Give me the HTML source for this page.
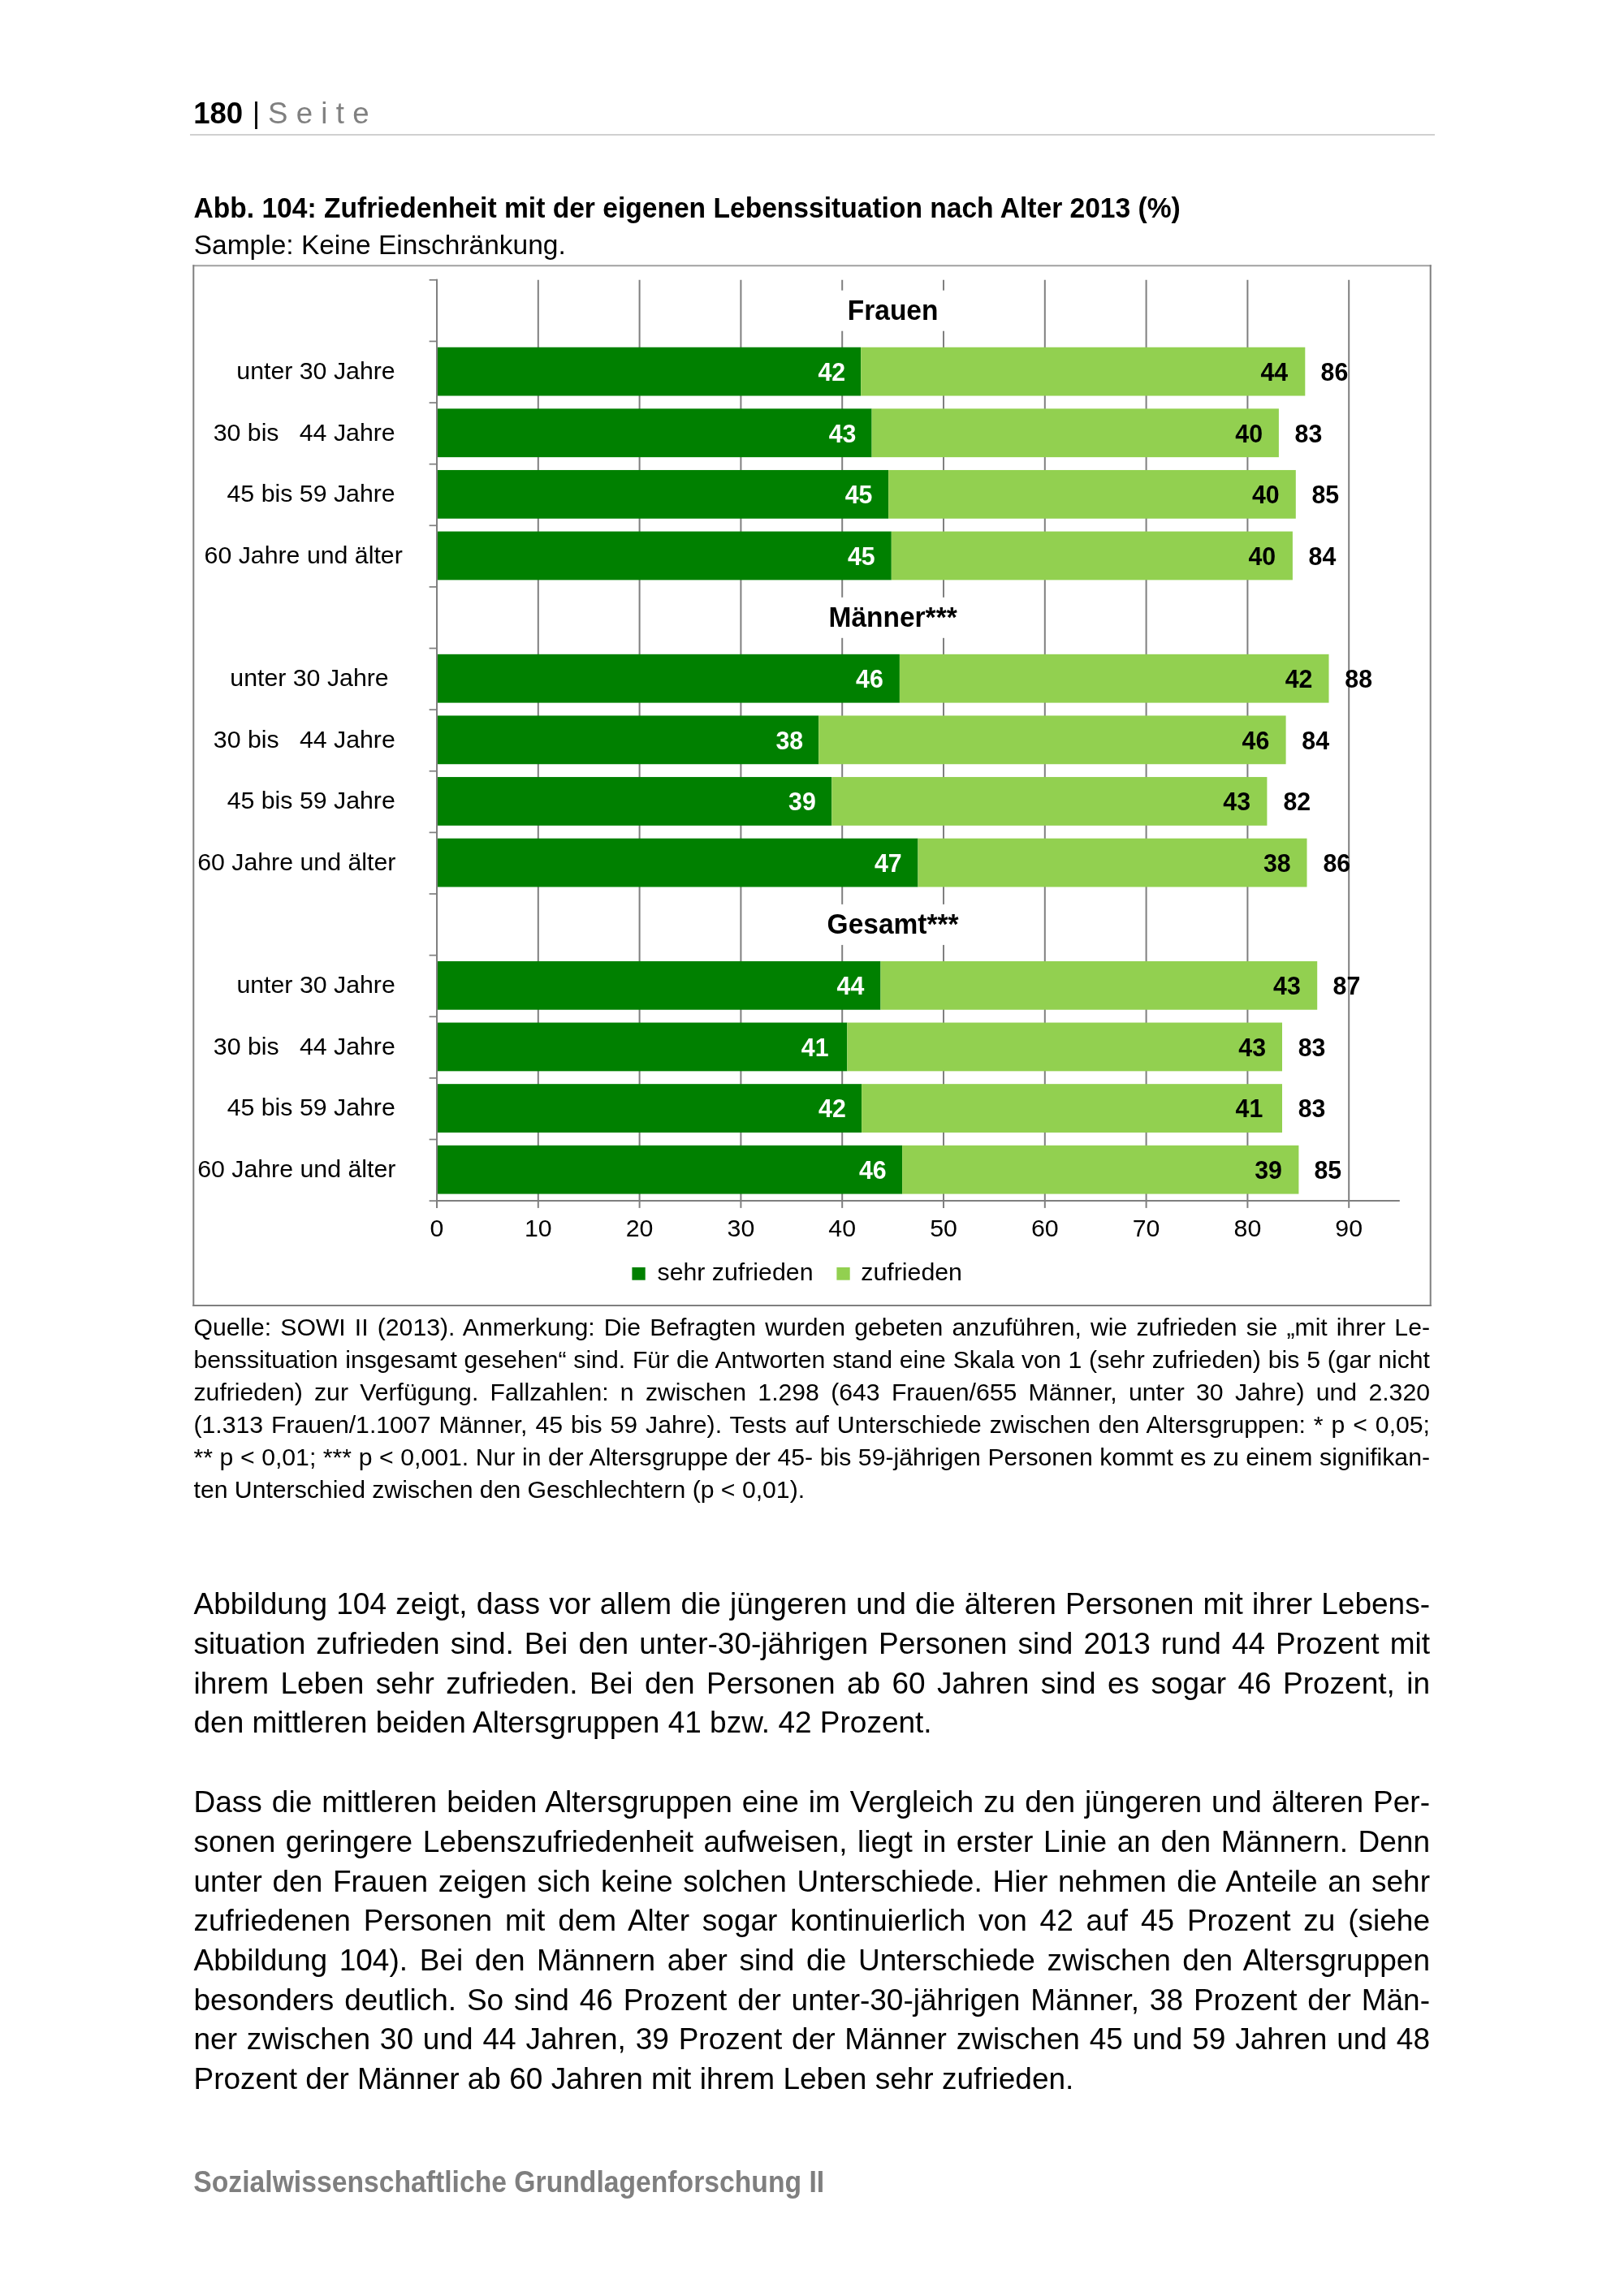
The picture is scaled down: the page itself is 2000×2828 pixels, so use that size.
<!DOCTYPE html>
<html><head><meta charset="utf-8"><style>
html,body{margin:0;padding:0;background:#fff;}
body{width:2000px;height:2828px;position:relative;overflow:hidden;font-family:'Liberation Sans', sans-serif;color:#000;}
.t{position:absolute;white-space:nowrap;}
.j{position:absolute;white-space:nowrap;text-align:justify;text-align-last:justify;}
svg text{font-family:'Liberation Sans', sans-serif;}
</style></head><body>
<div id="pg" style="position:absolute;left:0;top:0;width:2000px;height:2828px;will-change:transform">
<svg width="2000" height="2828" style="position:absolute;left:0;top:0">
<line x1="237.5" y1="327.2" x2="1762.7" y2="327.2" stroke="#a0a0a0" stroke-width="2"/>
<line x1="238.3" y1="326.2" x2="238.3" y2="1608.9" stroke="#7f7f7f" stroke-width="2"/>
<line x1="1761.7" y1="326.2" x2="1761.7" y2="1608.9" stroke="#7f7f7f" stroke-width="2"/>
<line x1="237.3" y1="1607.9" x2="1762.7" y2="1607.9" stroke="#7f7f7f" stroke-width="2"/>
<line x1="662.80" y1="344.80" x2="662.80" y2="1479.10" stroke="#7f7f7f" stroke-width="2"/>
<line x1="787.60" y1="344.80" x2="787.60" y2="1479.10" stroke="#7f7f7f" stroke-width="2"/>
<line x1="912.40" y1="344.80" x2="912.40" y2="1479.10" stroke="#7f7f7f" stroke-width="2"/>
<line x1="1037.20" y1="344.80" x2="1037.20" y2="1479.10" stroke="#7f7f7f" stroke-width="2"/>
<line x1="1162.00" y1="344.80" x2="1162.00" y2="1479.10" stroke="#7f7f7f" stroke-width="2"/>
<line x1="1286.80" y1="344.80" x2="1286.80" y2="1479.10" stroke="#7f7f7f" stroke-width="2"/>
<line x1="1411.60" y1="344.80" x2="1411.60" y2="1479.10" stroke="#7f7f7f" stroke-width="2"/>
<line x1="1536.40" y1="344.80" x2="1536.40" y2="1479.10" stroke="#7f7f7f" stroke-width="2"/>
<line x1="1661.20" y1="344.80" x2="1661.20" y2="1479.10" stroke="#7f7f7f" stroke-width="2"/>
<rect x="1028" y="357.70" width="144" height="50" fill="#fff"/>
<text x="1099.60" y="394.10" text-anchor="middle" font-weight="bold" font-size="33.5" transform="matrix(1,0,0,1.07,0,-27.587)">Frauen</text>
<rect x="1012" y="735.80" width="176" height="50" fill="#fff"/>
<text x="1099.60" y="772.20" text-anchor="middle" font-weight="bold" font-size="33.5" transform="matrix(1,0,0,1.07,0,-54.054)">Männer***</text>
<rect x="1012" y="1113.90" width="176" height="50" fill="#fff"/>
<text x="1099.60" y="1150.30" text-anchor="middle" font-weight="bold" font-size="33.5" transform="matrix(1,0,0,1.07,0,-80.521)">Gesamt***</text>
<rect x="538.8" y="427.72" width="521.40" height="59.8" fill="#008000"/>
<rect x="1060.20" y="427.72" width="547.10" height="59.8" fill="#92d050"/>
<text x="1041.10" y="469.03" text-anchor="end" font-weight="bold" font-size="30.3" fill="#fff" transform="matrix(1,0,0,1.065,0,-30.487)">42</text>
<text x="1586.10" y="469.03" text-anchor="end" font-weight="bold" font-size="30.3" transform="matrix(1,0,0,1.065,0,-30.487)">44</text>
<text x="1626.60" y="469.03" font-weight="bold" font-size="30.3" transform="matrix(1,0,0,1.065,0,-30.487)">86</text>
<rect x="538.8" y="503.34" width="534.80" height="59.8" fill="#008000"/>
<rect x="1073.60" y="503.34" width="501.30" height="59.8" fill="#92d050"/>
<text x="1054.40" y="544.65" text-anchor="end" font-weight="bold" font-size="30.3" fill="#fff" transform="matrix(1,0,0,1.065,0,-35.402)">43</text>
<text x="1555.00" y="544.65" text-anchor="end" font-weight="bold" font-size="30.3" transform="matrix(1,0,0,1.065,0,-35.402)">40</text>
<text x="1594.60" y="544.65" font-weight="bold" font-size="30.3" transform="matrix(1,0,0,1.065,0,-35.402)">83</text>
<rect x="538.8" y="578.96" width="555.30" height="59.8" fill="#008000"/>
<rect x="1094.10" y="578.96" width="501.70" height="59.8" fill="#92d050"/>
<text x="1074.40" y="620.27" text-anchor="end" font-weight="bold" font-size="30.3" fill="#fff" transform="matrix(1,0,0,1.065,0,-40.318)">45</text>
<text x="1575.70" y="620.27" text-anchor="end" font-weight="bold" font-size="30.3" transform="matrix(1,0,0,1.065,0,-40.318)">40</text>
<text x="1615.50" y="620.27" font-weight="bold" font-size="30.3" transform="matrix(1,0,0,1.065,0,-40.318)">85</text>
<rect x="538.8" y="654.58" width="559.00" height="59.8" fill="#008000"/>
<rect x="1097.80" y="654.58" width="494.10" height="59.8" fill="#92d050"/>
<text x="1077.70" y="695.89" text-anchor="end" font-weight="bold" font-size="30.3" fill="#fff" transform="matrix(1,0,0,1.065,0,-45.233)">45</text>
<text x="1571.10" y="695.89" text-anchor="end" font-weight="bold" font-size="30.3" transform="matrix(1,0,0,1.065,0,-45.233)">40</text>
<text x="1611.60" y="695.89" font-weight="bold" font-size="30.3" transform="matrix(1,0,0,1.065,0,-45.233)">84</text>
<rect x="538.8" y="805.82" width="569.10" height="59.8" fill="#008000"/>
<rect x="1107.90" y="805.82" width="528.60" height="59.8" fill="#92d050"/>
<text x="1087.80" y="847.13" text-anchor="end" font-weight="bold" font-size="30.3" fill="#fff" transform="matrix(1,0,0,1.065,0,-55.063)">46</text>
<text x="1616.40" y="847.13" text-anchor="end" font-weight="bold" font-size="30.3" transform="matrix(1,0,0,1.065,0,-55.063)">42</text>
<text x="1656.30" y="847.13" font-weight="bold" font-size="30.3" transform="matrix(1,0,0,1.065,0,-55.063)">88</text>
<rect x="538.8" y="881.44" width="469.40" height="59.8" fill="#008000"/>
<rect x="1008.20" y="881.44" width="575.40" height="59.8" fill="#92d050"/>
<text x="989.10" y="922.75" text-anchor="end" font-weight="bold" font-size="30.3" fill="#fff" transform="matrix(1,0,0,1.065,0,-59.979)">38</text>
<text x="1563.30" y="922.75" text-anchor="end" font-weight="bold" font-size="30.3" transform="matrix(1,0,0,1.065,0,-59.979)">46</text>
<text x="1603.30" y="922.75" font-weight="bold" font-size="30.3" transform="matrix(1,0,0,1.065,0,-59.979)">84</text>
<rect x="538.8" y="957.06" width="485.50" height="59.8" fill="#008000"/>
<rect x="1024.30" y="957.06" width="536.10" height="59.8" fill="#92d050"/>
<text x="1004.80" y="998.37" text-anchor="end" font-weight="bold" font-size="30.3" fill="#fff" transform="matrix(1,0,0,1.065,0,-64.894)">39</text>
<text x="1540.00" y="998.37" text-anchor="end" font-weight="bold" font-size="30.3" transform="matrix(1,0,0,1.065,0,-64.894)">43</text>
<text x="1580.50" y="998.37" font-weight="bold" font-size="30.3" transform="matrix(1,0,0,1.065,0,-64.894)">82</text>
<rect x="538.8" y="1032.68" width="591.70" height="59.8" fill="#008000"/>
<rect x="1130.50" y="1032.68" width="479.00" height="59.8" fill="#92d050"/>
<text x="1110.70" y="1073.99" text-anchor="end" font-weight="bold" font-size="30.3" fill="#fff" transform="matrix(1,0,0,1.065,0,-69.809)">47</text>
<text x="1589.70" y="1073.99" text-anchor="end" font-weight="bold" font-size="30.3" transform="matrix(1,0,0,1.065,0,-69.809)">38</text>
<text x="1629.50" y="1073.99" font-weight="bold" font-size="30.3" transform="matrix(1,0,0,1.065,0,-69.809)">86</text>
<rect x="538.8" y="1183.92" width="545.70" height="59.8" fill="#008000"/>
<rect x="1084.50" y="1183.92" width="537.70" height="59.8" fill="#92d050"/>
<text x="1064.30" y="1225.23" text-anchor="end" font-weight="bold" font-size="30.3" fill="#fff" transform="matrix(1,0,0,1.065,0,-79.640)">44</text>
<text x="1601.80" y="1225.23" text-anchor="end" font-weight="bold" font-size="30.3" transform="matrix(1,0,0,1.065,0,-79.640)">43</text>
<text x="1641.60" y="1225.23" font-weight="bold" font-size="30.3" transform="matrix(1,0,0,1.065,0,-79.640)">87</text>
<rect x="538.8" y="1259.54" width="504.50" height="59.8" fill="#008000"/>
<rect x="1043.30" y="1259.54" width="535.70" height="59.8" fill="#92d050"/>
<text x="1020.50" y="1300.85" text-anchor="end" font-weight="bold" font-size="30.3" fill="#fff" transform="matrix(1,0,0,1.065,0,-84.555)">41</text>
<text x="1559.00" y="1300.85" text-anchor="end" font-weight="bold" font-size="30.3" transform="matrix(1,0,0,1.065,0,-84.555)">43</text>
<text x="1598.70" y="1300.85" font-weight="bold" font-size="30.3" transform="matrix(1,0,0,1.065,0,-84.555)">83</text>
<rect x="538.8" y="1335.16" width="522.30" height="59.8" fill="#008000"/>
<rect x="1061.10" y="1335.16" width="517.90" height="59.8" fill="#92d050"/>
<text x="1041.80" y="1376.47" text-anchor="end" font-weight="bold" font-size="30.3" fill="#fff" transform="matrix(1,0,0,1.065,0,-89.471)">42</text>
<text x="1555.30" y="1376.47" text-anchor="end" font-weight="bold" font-size="30.3" transform="matrix(1,0,0,1.065,0,-89.471)">41</text>
<text x="1598.70" y="1376.47" font-weight="bold" font-size="30.3" transform="matrix(1,0,0,1.065,0,-89.471)">83</text>
<rect x="538.8" y="1410.78" width="572.30" height="59.8" fill="#008000"/>
<rect x="1111.10" y="1410.78" width="488.30" height="59.8" fill="#92d050"/>
<text x="1091.60" y="1452.09" text-anchor="end" font-weight="bold" font-size="30.3" fill="#fff" transform="matrix(1,0,0,1.065,0,-94.386)">46</text>
<text x="1578.90" y="1452.09" text-anchor="end" font-weight="bold" font-size="30.3" transform="matrix(1,0,0,1.065,0,-94.386)">39</text>
<text x="1618.40" y="1452.09" font-weight="bold" font-size="30.3" transform="matrix(1,0,0,1.065,0,-94.386)">85</text>
<line x1="538.0" y1="343.80" x2="538.0" y2="1480.10" stroke="#7f7f7f" stroke-width="2"/>
<line x1="528.6" y1="344.80" x2="539" y2="344.80" stroke="#7f7f7f" stroke-width="1.7"/>
<line x1="528.6" y1="420.42" x2="539" y2="420.42" stroke="#7f7f7f" stroke-width="1.7"/>
<line x1="528.6" y1="496.04" x2="539" y2="496.04" stroke="#7f7f7f" stroke-width="1.7"/>
<line x1="528.6" y1="571.66" x2="539" y2="571.66" stroke="#7f7f7f" stroke-width="1.7"/>
<line x1="528.6" y1="647.28" x2="539" y2="647.28" stroke="#7f7f7f" stroke-width="1.7"/>
<line x1="528.6" y1="722.90" x2="539" y2="722.90" stroke="#7f7f7f" stroke-width="1.7"/>
<line x1="528.6" y1="798.52" x2="539" y2="798.52" stroke="#7f7f7f" stroke-width="1.7"/>
<line x1="528.6" y1="874.14" x2="539" y2="874.14" stroke="#7f7f7f" stroke-width="1.7"/>
<line x1="528.6" y1="949.76" x2="539" y2="949.76" stroke="#7f7f7f" stroke-width="1.7"/>
<line x1="528.6" y1="1025.38" x2="539" y2="1025.38" stroke="#7f7f7f" stroke-width="1.7"/>
<line x1="528.6" y1="1101.00" x2="539" y2="1101.00" stroke="#7f7f7f" stroke-width="1.7"/>
<line x1="528.6" y1="1176.62" x2="539" y2="1176.62" stroke="#7f7f7f" stroke-width="1.7"/>
<line x1="528.6" y1="1252.24" x2="539" y2="1252.24" stroke="#7f7f7f" stroke-width="1.7"/>
<line x1="528.6" y1="1327.86" x2="539" y2="1327.86" stroke="#7f7f7f" stroke-width="1.7"/>
<line x1="528.6" y1="1403.48" x2="539" y2="1403.48" stroke="#7f7f7f" stroke-width="1.7"/>
<line x1="528.6" y1="1479.10" x2="539" y2="1479.10" stroke="#7f7f7f" stroke-width="1.7"/>
<line x1="537" y1="1479.10" x2="1723.8" y2="1479.10" stroke="#7f7f7f" stroke-width="2"/>
<line x1="538.00" y1="1478.10" x2="538.00" y2="1487.9" stroke="#7f7f7f" stroke-width="2"/>
<text x="538.00" y="1522.9" text-anchor="middle" font-size="30.3">0</text>
<line x1="662.80" y1="1478.10" x2="662.80" y2="1487.9" stroke="#7f7f7f" stroke-width="2"/>
<text x="662.80" y="1522.9" text-anchor="middle" font-size="30.3">10</text>
<line x1="787.60" y1="1478.10" x2="787.60" y2="1487.9" stroke="#7f7f7f" stroke-width="2"/>
<text x="787.60" y="1522.9" text-anchor="middle" font-size="30.3">20</text>
<line x1="912.40" y1="1478.10" x2="912.40" y2="1487.9" stroke="#7f7f7f" stroke-width="2"/>
<text x="912.40" y="1522.9" text-anchor="middle" font-size="30.3">30</text>
<line x1="1037.20" y1="1478.10" x2="1037.20" y2="1487.9" stroke="#7f7f7f" stroke-width="2"/>
<text x="1037.20" y="1522.9" text-anchor="middle" font-size="30.3">40</text>
<line x1="1162.00" y1="1478.10" x2="1162.00" y2="1487.9" stroke="#7f7f7f" stroke-width="2"/>
<text x="1162.00" y="1522.9" text-anchor="middle" font-size="30.3">50</text>
<line x1="1286.80" y1="1478.10" x2="1286.80" y2="1487.9" stroke="#7f7f7f" stroke-width="2"/>
<text x="1286.80" y="1522.9" text-anchor="middle" font-size="30.3">60</text>
<line x1="1411.60" y1="1478.10" x2="1411.60" y2="1487.9" stroke="#7f7f7f" stroke-width="2"/>
<text x="1411.60" y="1522.9" text-anchor="middle" font-size="30.3">70</text>
<line x1="1536.40" y1="1478.10" x2="1536.40" y2="1487.9" stroke="#7f7f7f" stroke-width="2"/>
<text x="1536.40" y="1522.9" text-anchor="middle" font-size="30.3">80</text>
<line x1="1661.20" y1="1478.10" x2="1661.20" y2="1487.9" stroke="#7f7f7f" stroke-width="2"/>
<text x="1661.20" y="1522.9" text-anchor="middle" font-size="30.3">90</text>
<text x="486.70" y="466.93" text-anchor="end" font-size="30.3" xml:space="preserve">unter 30 Jahre</text>
<text x="486.70" y="542.55" text-anchor="end" font-size="30.3" xml:space="preserve">30 bis&#160;&#160; 44 Jahre</text>
<text x="486.70" y="618.17" text-anchor="end" font-size="30.3" xml:space="preserve">45 bis 59 Jahre</text>
<text x="495.80" y="693.79" text-anchor="end" font-size="30.3" xml:space="preserve">60 Jahre und älter</text>
<text x="478.70" y="845.03" text-anchor="end" font-size="30.3" xml:space="preserve">unter 30 Jahre</text>
<text x="486.80" y="920.65" text-anchor="end" font-size="30.3" xml:space="preserve">30 bis&#160;&#160; 44 Jahre</text>
<text x="486.80" y="996.27" text-anchor="end" font-size="30.3" xml:space="preserve">45 bis 59 Jahre</text>
<text x="487.40" y="1071.89" text-anchor="end" font-size="30.3" xml:space="preserve">60 Jahre und älter</text>
<text x="486.80" y="1223.13" text-anchor="end" font-size="30.3" xml:space="preserve">unter 30 Jahre</text>
<text x="486.80" y="1298.75" text-anchor="end" font-size="30.3" xml:space="preserve">30 bis&#160;&#160; 44 Jahre</text>
<text x="486.80" y="1374.37" text-anchor="end" font-size="30.3" xml:space="preserve">45 bis 59 Jahre</text>
<text x="487.40" y="1449.99" text-anchor="end" font-size="30.3" xml:space="preserve">60 Jahre und älter</text>
<rect x="778.4" y="1561" width="16.3" height="15.7" fill="#008000"/>
<text x="809.5" y="1577.2" font-size="30.3">sehr zufrieden</text>
<rect x="1030.4" y="1561" width="16.3" height="15.7" fill="#92d050"/>
<text x="1060.3" y="1577.2" font-size="30.3">zufrieden</text>
</svg>
<div class="t" style="left:238.20px;top:122.22px;font-size:36.6px;line-height:36.6px;font-weight:bold;color:#000;">180</div>
<div style="position:absolute;left:314px;top:124.7px;width:3px;height:34.1px;background:#111"></div>
<div class="t" style="left:330.00px;top:122.22px;font-size:36.6px;line-height:36.6px;font-weight:normal;color:#808080;letter-spacing:10.3px;">Seite</div>
<div style="position:absolute;left:233.6px;top:164.5px;width:1533px;height:2.4px;background:#d0d0d0"></div>
<div class="t" style="left:238.50px;top:239.96px;font-size:33.6px;line-height:33.6px;font-weight:bold;color:#000;transform:scaleY(1.065);transform-origin:0 28.44px;">Abb. 104: Zufriedenheit mit der eigenen Lebenssituation nach Alter 2013 (%)</div>
<div class="t" style="left:238.70px;top:284.64px;font-size:33.5px;line-height:33.5px;font-weight:normal;color:#000;">Sample: Keine Einschränkung.</div>
<div class="j" style="left:238.50px;top:1620.24px;width:1522.50px;font-size:30.2px;line-height:30.2px;">Quelle: SOWI II (2013). Anmerkung: Die Befragten wurden gebeten anzuführen, wie zufrieden sie „mit ihrer Le-</div>
<div class="j" style="left:238.50px;top:1660.14px;width:1522.50px;font-size:30.2px;line-height:30.2px;">benssituation insgesamt gesehen“ sind. Für die Antworten stand eine Skala von 1 (sehr zufrieden) bis 5 (gar nicht</div>
<div class="j" style="left:238.50px;top:1700.04px;width:1522.50px;font-size:30.2px;line-height:30.2px;">zufrieden) zur Verfügung. Fallzahlen: n zwischen 1.298 (643 Frauen/655 Männer, unter 30 Jahre) und 2.320</div>
<div class="j" style="left:238.50px;top:1739.94px;width:1522.50px;font-size:30.2px;line-height:30.2px;">(1.313 Frauen/1.1007 Männer, 45 bis 59 Jahre). Tests auf Unterschiede zwischen den Altersgruppen: * p &lt; 0,05;</div>
<div class="j" style="left:238.50px;top:1779.84px;width:1522.50px;font-size:30.2px;line-height:30.2px;">** p &lt; 0,01; *** p &lt; 0,001. Nur in der Altersgruppe der 45- bis 59-jährigen Personen kommt es zu einem signifikan-</div>
<div class="t" style="left:238.50px;top:1819.74px;font-size:30.2px;line-height:30.2px;font-weight:normal;color:#000;">ten Unterschied zwischen den Geschlechtern (p &lt; 0,01).</div>
<div class="j" style="left:238.50px;top:1957.28px;width:1522.50px;font-size:37px;line-height:37px;">Abbildung 104 zeigt, dass vor allem die jüngeren und die älteren Personen mit ihrer Lebens-</div>
<div class="j" style="left:238.50px;top:2005.97px;width:1522.50px;font-size:37px;line-height:37px;">situation zufrieden sind. Bei den unter-30-jährigen Personen sind 2013 rund 44 Prozent mit</div>
<div class="j" style="left:238.50px;top:2054.66px;width:1522.50px;font-size:37px;line-height:37px;">ihrem Leben sehr zufrieden. Bei den Personen ab 60 Jahren sind es sogar 46 Prozent, in</div>
<div class="t" style="left:238.50px;top:2103.35px;font-size:37px;line-height:37px;font-weight:normal;color:#000;">den mittleren beiden Altersgruppen 41 bzw. 42 Prozent.</div>
<div class="j" style="left:238.50px;top:2201.18px;width:1522.50px;font-size:37px;line-height:37px;">Dass die mittleren beiden Altersgruppen eine im Vergleich zu den jüngeren und älteren Per-</div>
<div class="j" style="left:238.50px;top:2249.87px;width:1522.50px;font-size:37px;line-height:37px;">sonen geringere Lebenszufriedenheit aufweisen, liegt in erster Linie an den Männern. Denn</div>
<div class="j" style="left:238.50px;top:2298.56px;width:1522.50px;font-size:37px;line-height:37px;">unter den Frauen zeigen sich keine solchen Unterschiede. Hier nehmen die Anteile an sehr</div>
<div class="j" style="left:238.50px;top:2347.25px;width:1522.50px;font-size:37px;line-height:37px;">zufriedenen Personen mit dem Alter sogar kontinuierlich von 42 auf 45 Prozent zu (siehe</div>
<div class="j" style="left:238.50px;top:2395.94px;width:1522.50px;font-size:37px;line-height:37px;">Abbildung 104). Bei den Männern aber sind die Unterschiede zwischen den Altersgruppen</div>
<div class="j" style="left:238.50px;top:2444.63px;width:1522.50px;font-size:37px;line-height:37px;">besonders deutlich. So sind 46 Prozent der unter-30-jährigen Männer, 38 Prozent der Män-</div>
<div class="j" style="left:238.50px;top:2493.32px;width:1522.50px;font-size:37px;line-height:37px;">ner zwischen 30 und 44 Jahren, 39 Prozent der Männer zwischen 45 und 59 Jahren und 48</div>
<div class="t" style="left:238.50px;top:2542.01px;font-size:37px;line-height:37px;font-weight:normal;color:#000;">Prozent der Männer ab 60 Jahren mit ihrem Leben sehr zufrieden.</div>
<div class="t" style="left:238.30px;top:2671.97px;font-size:33.7px;line-height:33.7px;font-weight:bold;color:#7f7f7f;transform:scaleY(1.08);transform-origin:0 28.53px;">Sozialwissenschaftliche Grundlagenforschung II</div>
</div>
</body></html>
